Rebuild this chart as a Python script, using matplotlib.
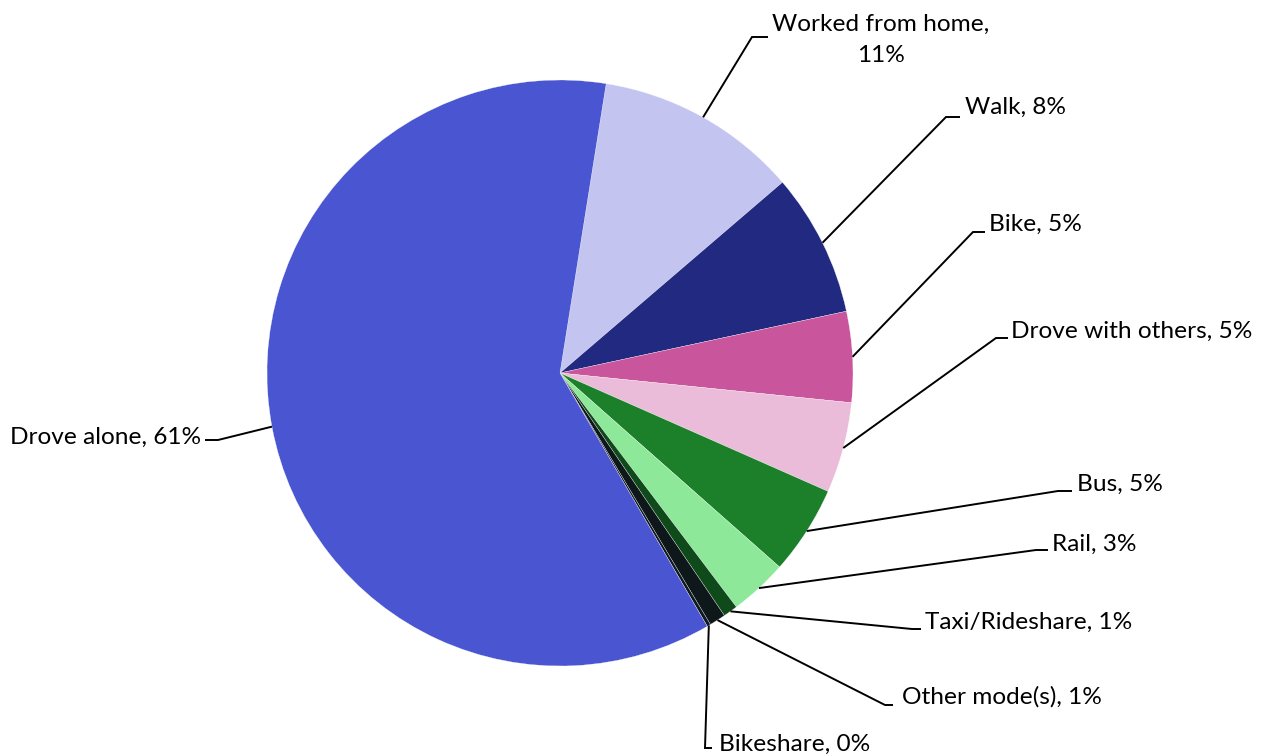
import matplotlib
matplotlib.use("Agg")
import matplotlib.pyplot as plt
import numpy as np

categories = ["Worked from home", "Walk", "Bike", "Drove with others", "Bus", "Rail",
              "Taxi/Rideshare", "Other mode(s)", "Bikeshare", "Drove alone"]
values = [11.2, 7.9, 5.0, 5.0, 4.9, 3.2, 0.8, 0.9, 0.2, 60.9]
colors = ["#C3C5F0", "#222980", "#C9559C", "#EBBCD9", "#1C7F2A", "#8DE89A",
          "#0F4A1A", "#0E1719", "#111A1E", "#4A55D1"]

# layout (pixel coords, y from top): elbow point, line end, text anchor, alignment
elbows = [(752, 37), (946, 117), (973, 232), (996, 338), (1058, 491), (1036, 550),
          (912, 629), (885, 705), (705, 748), (218, 440)]
ends = [(768, 37), (960, 117), (985, 232), (1008, 338), (1072, 491), (1048, 550),
        (921, 629), (893, 705), (712, 748), (205, 440)]
text_pos = [(881, 40), (965, 107), (989, 224), (1011, 331), (1077, 484), (1052, 544),
            (925, 622), (902, 697), (719, 744), (201, 437)]
text_ha = ["center", "left", "left", "left", "left", "left", "left", "left", "left", "right"]

W, H = 1267, 756
plt.rcParams['font.family'] = ['Lato', 'DejaVu Sans']
fig = plt.figure(figsize=(W / 100, H / 100), dpi=100)
ax = fig.add_axes([0, 0, 1, 1])

cx, cy, r = 560, H - 373, 293
start_deg = 9.07  # clockwise from top
wedges, _ = ax.pie(values, colors=colors, startangle=90 - start_deg, counterclock=False,
                   center=(cx, cy), radius=r, frame=True,
                   wedgeprops=dict(edgecolor="white", linewidth=0.2))
ax.set_xlim(0, W)
ax.set_ylim(0, H)
ax.axis('off')

for i, w in enumerate(wedges):
    mid = np.deg2rad((w.theta1 + w.theta2) / 2)
    sx, sy = cx + r * np.cos(mid), cy + r * np.sin(mid)
    ex, ey = elbows[i]
    fx, fy = ends[i]
    ax.plot([sx, ex, fx], [sy, H - ey, H - fy], color="black", lw=1.4,
            solid_joinstyle="miter", solid_capstyle="butt")
    pct = f"{values[i]:.0f}%"
    if categories[i] == "Worked from home":
        label = f"{categories[i]},\n{pct}"
    else:
        label = f"{categories[i]}, {pct}"
    tx, ty = text_pos[i]
    ax.text(tx, H - ty, label, ha=text_ha[i], va="center", fontsize=17.6,
            color="black", linespacing=1.55, multialignment="center")

fig.savefig("out.png", dpi=100)
